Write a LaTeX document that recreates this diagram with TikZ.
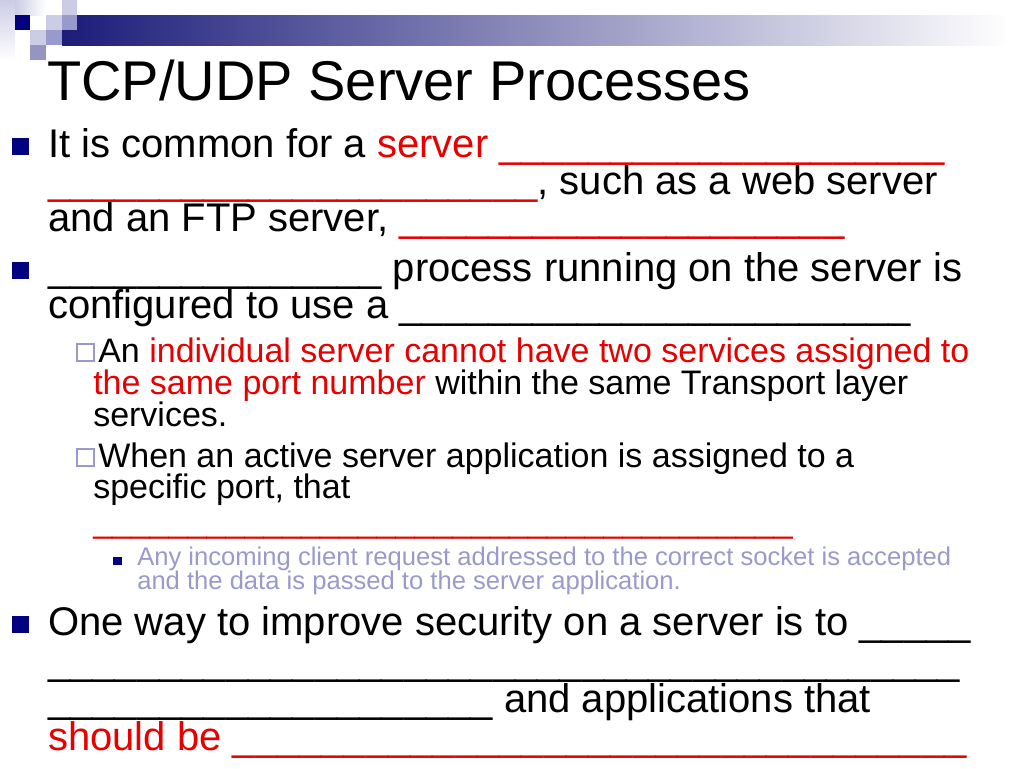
\documentclass[tikz,border=0pt]{standalone}
\usepackage{fontspec}
\setmainfont{Liberation Sans}
\definecolor{slidenavy}{RGB}{0,0,128}
\definecolor{barnavy}{RGB}{28,28,122}
\definecolor{slidered}{RGB}{230,0,0}
\definecolor{lavender}{RGB}{153,153,204}
\definecolor{palelav}{RGB}{204,204,230}
\newcommand{\blanks}[1]{\foreach \k in {1,...,#1}{\_}}
\begin{document}
\begin{tikzpicture}[x=0.75pt,y=-0.75pt,
    every node/.style={inner sep=0pt,anchor=base west},
    title/.style={font=\fontsize{42}{42}\selectfont},
    body/.style={font=\fontsize{30}{30}\selectfont},
    sub/.style={font=\fontsize{25.5}{25.5}\selectfont},
    subsub/.style={font=\fontsize{19.2}{19.2}\selectfont,text=lavender},
    hollow/.style={draw=lavender,line width=1pt}]
    \useasboundingbox (0,0) rectangle (1024,768);
        \shade[top color=palelav,bottom color=white] (0,0) rectangle (15,60);
        \shade[left color=palelav,right color=white] (15,0) rectangle (46,15);
        \shade[left color=barnavy,right color=white] (62,15) rectangle (1010,45);
        \fill[palelav] (62,0) rectangle (77,15);
        \fill[slidenavy] (15,15) rectangle (30,30);
        \fill[palelav] (46,15) rectangle (62,30);
        \fill[lavender] (62,15) rectangle (77,30);
        \fill[palelav] (30,30) rectangle (46,45);
        \fill[lavender] (46,30) rectangle (62,45);
        \fill[lavender!85!gray] (30,45) rectangle (46,60);
        \node[title] (title) at (47,100) {TCP/UDP Server Processes};
        \fill[slidenavy] (12,138) rectangle (29,155);
        \node[body] (l1) at (48,157) {It is common for a \textcolor{slidered}{server \blanks{20}}};
        \node[body] (l2) at (48,194) {\textcolor{slidered}{\blanks{22}}, such as a web server};
        \node[body] (l3) at (48,231) {and an FTP server, \textcolor{slidered}{\blanks{20}}};
        \fill[slidenavy] (12,262) rectangle (29,279);
        \node[body] (l4) at (48,281) {\blanks{15} process running on the server is};
        \node[body] (l5) at (48,318) {configured to use a \blanks{23}};
        \draw[hollow] (77,344) rectangle (94,361);
        \node[sub] (l6) at (98,362) {An \textcolor{slidered}{individual server cannot have two services assigned to}};
        \node[sub] (l7) at (93,394) {\textcolor{slidered}{the same port number} within the same Transport layer};
        \node[sub] (l8) at (93,426) {services.};
        \draw[hollow] (77,449) rectangle (94,466);
        \node[sub] (l9) at (98,467) {When an active server application is assigned to a};
        \node[sub] (l10) at (93,498) {specific port, that};
        \node[sub] (l11) at (93,532) {\textcolor{slidered}{\blanks{37}}};
        \fill[slidenavy] (113,557) rectangle (122,565);
        \node[subsub] (l12) at (137,565) {Any incoming client request addressed to the correct socket is accepted};
        \node[subsub] (l13) at (137,589) {and the data is passed to the server application.};
        \fill[slidenavy] (12,616) rectangle (29,633);
        \node[body] (l14) at (48,635) {One way to improve security on a server is to \blanks{5}};
        \node[body] (l15) at (48,674) {\blanks{41}};
        \node[body] (l16) at (48,712) {\blanks{20} and applications that};
        \node[body] (l17) at (48,750) {\textcolor{slidered}{should be \blanks{33}}};
    \end{tikzpicture}
\end{document}
